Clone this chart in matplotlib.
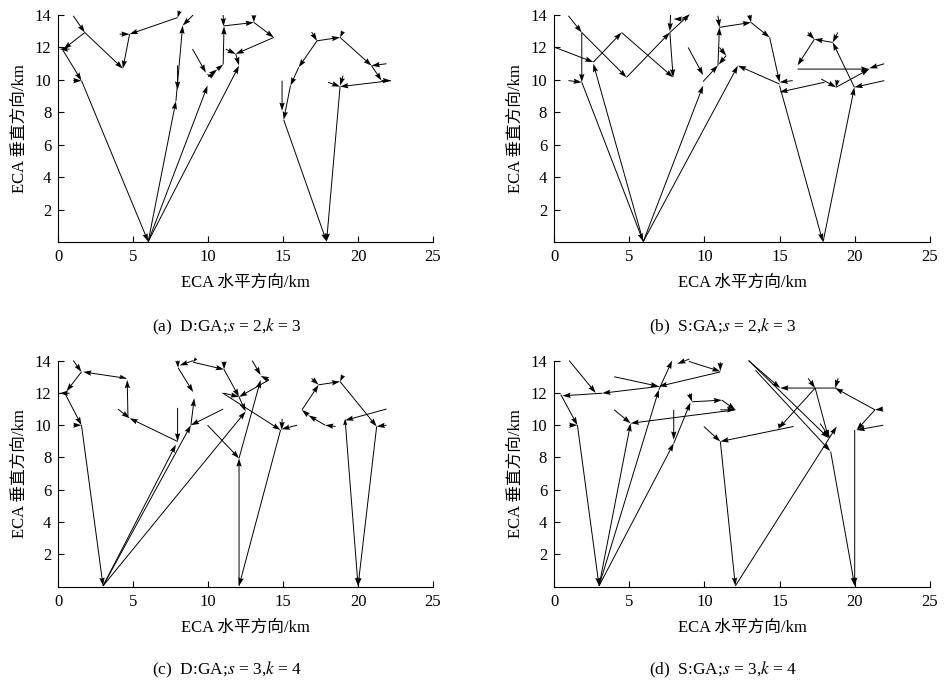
import matplotlib
matplotlib.use("Agg")
import matplotlib.pyplot as plt
import numpy as np

plt.rcParams["font.family"] = ["Liberation Serif", "Noto Sans CJK SC"]
plt.rcParams["mathtext.fontset"] = "stix"

# segments: (x_start, y_start, x_end, y_end) in km, arrow points to the end
seg_a = [
    (1.0, 13.95, 1.77, 12.92), (1.77, 12.92, 0.35, 11.9), (0.75, 11.9, 0.1, 11.9),
    (0.3, 11.85, 1.55, 9.96), (1.0, 9.96, 1.55, 9.96), (1.55, 9.96, 6.0, 0.05),
    (1.77, 12.92, 4.31, 10.7), (4.76, 12.82, 4.31, 10.7), (4.1, 12.82, 4.76, 12.82),
    (7.96, 13.84, 4.76, 12.82), (8.1, 14.25, 7.96, 13.84), (9.0, 14.0, 8.3, 13.35),
    (6.0, 0.05, 7.85, 8.7), (7.85, 8.7, 8.3, 13.35), (7.96, 10.9, 7.96, 9.4),
    (6.0, 0.05, 9.96, 9.65), (6.0, 0.05, 12.06, 10.88), (8.96, 11.9, 9.85, 10.45),
    (10.3, 10.2, 9.9, 10.35), (10.0, 10.2, 10.6, 10.65), (10.6, 10.65, 11.0, 10.95),
    (11.0, 10.95, 11.06, 13.3), (11.0, 14.0, 11.03, 13.3), (11.06, 13.33, 13.05, 13.54),
    (13.05, 14.0, 13.05, 13.54), (13.05, 13.54, 14.38, 12.62), (14.38, 12.62, 11.84, 11.6),
    (11.17, 11.9, 11.84, 11.6), (11.84, 11.6, 12.06, 10.9),
    (14.93, 9.96, 14.93, 8.1), (17.26, 12.41, 16.04, 10.78), (16.04, 10.78, 15.49, 9.65),
    (15.49, 9.65, 15.04, 7.55), (15.04, 7.55, 17.9, 0.05), (17.26, 12.41, 18.8, 12.62),
    (16.9, 12.95, 17.26, 12.41), (19.0, 13.0, 18.8, 12.62), (18.8, 12.62, 20.9, 10.88),
    (21.9, 11.0, 20.9, 10.88), (20.9, 10.88, 21.57, 9.96), (21.57, 9.96, 22.2, 9.96),
    (22.2, 9.96, 18.8, 9.59), (18.0, 9.86, 18.8, 9.59), (19.0, 10.27, 18.8, 9.65),
    (18.8, 9.59, 17.9, 0.05),
]

seg_b = [
    (0.95, 13.95, 1.84, 12.92), (1.84, 12.92, 1.84, 9.86), (0.95, 9.96, 1.84, 9.86),
    (1.84, 9.86, 5.93, 0.05), (1.84, 12.92, 4.82, 10.16), (0.07, 12.0, 2.61, 11.1),
    (2.61, 11.1, 4.49, 12.92), (4.49, 12.92, 7.92, 10.16), (4.82, 10.16, 7.7, 12.92),
    (7.7, 12.92, 7.92, 10.16), (7.7, 12.92, 9.03, 14.05), (7.75, 14.0, 7.7, 13.0),
    (8.9, 13.75, 7.95, 13.75), (5.93, 0.05, 2.61, 11.0), (5.93, 0.05, 9.91, 9.65),
    (5.93, 0.05, 12.23, 10.88), (8.92, 12.0, 9.91, 10.3), (9.91, 9.9, 10.9, 10.9),
    (11.0, 12.0, 11.45, 11.5), (11.45, 11.5, 10.95, 10.95), (10.9, 10.88, 11.0, 13.24),
    (10.9, 13.95, 11.0, 13.24), (11.0, 13.24, 13.1, 13.54), (13.0, 14.0, 13.1, 13.54),
    (13.1, 13.54, 14.34, 12.62), (14.34, 12.62, 15.0, 9.86), (15.0, 9.75, 12.23, 10.88),
    (15.88, 9.96, 15.0, 9.86), (15.0, 9.65, 17.88, 0.05), (17.99, 9.86, 15.0, 9.25),
    (17.77, 10.06, 18.76, 9.55), (18.85, 10.0, 18.76, 9.55), (18.76, 9.55, 20.97, 10.67),
    (16.2, 10.67, 20.97, 10.67), (21.97, 11.0, 20.97, 10.72), (16.88, 12.92, 17.32, 12.51),
    (17.32, 12.51, 16.2, 10.9), (18.87, 12.92, 18.54, 12.31), (18.54, 12.31, 17.32, 12.51),
    (19.98, 9.55, 18.54, 12.31), (17.9, 0.05, 19.98, 9.55), (21.97, 9.96, 19.98, 9.55),
]

seg_c = [
    (1.0, 14.0, 1.55, 13.3), (1.55, 13.3, 0.55, 12.1), (0.75, 11.98, 0.1, 11.98),
    (0.44, 11.98, 1.55, 10.0), (1.0, 10.0, 1.55, 10.0), (1.55, 10.0, 2.99, 0.05),
    (4.54, 12.9, 1.66, 13.3), (4.1, 13.0, 4.54, 12.9), (4.65, 10.53, 4.6, 12.8),
    (3.98, 11.0, 4.76, 10.43), (7.96, 8.99, 4.76, 10.43), (7.96, 11.07, 7.96, 8.99),
    (2.99, 0.05, 7.85, 8.8), (2.99, 0.05, 8.85, 10.0), (2.99, 0.05, 12.5, 10.85),
    (8.85, 10.0, 9.07, 11.67), (11.0, 11.0, 8.85, 10.0), (8.0, 13.55, 9.0, 12.05),
    (7.96, 14.0, 8.0, 13.55), (9.0, 14.0, 8.1, 13.7), (9.2, 14.15, 9.0, 13.9),
    (9.0, 13.9, 11.06, 13.45), (11.06, 13.95, 11.06, 13.45), (11.06, 13.45, 12.06, 11.75),
    (11.06, 11.98, 12.06, 11.75), (14.05, 12.8, 12.06, 11.75), (12.06, 11.75, 12.5, 10.85),
    (12.94, 14.0, 13.5, 13.1), (14.05, 12.8, 13.5, 13.05), (12.06, 0.05, 12.06, 7.95),
    (12.06, 7.95, 13.5, 12.8), (9.96, 10.0, 12.06, 7.95), (10.95, 12.0, 14.83, 9.7),
    (14.94, 10.4, 14.9, 9.7), (15.93, 10.0, 14.9, 9.75), (14.83, 9.7, 12.06, 0.05),
    (16.26, 10.95, 17.37, 12.5), (16.9, 12.9, 17.37, 12.5), (17.37, 12.5, 18.8, 12.7),
    (19.0, 13.1, 18.8, 12.7), (18.8, 12.7, 21.24, 9.92), (21.9, 10.0, 21.24, 9.92),
    (21.24, 9.92, 20.0, 0.05), (19.14, 10.3, 20.0, 0.05), (18.5, 9.92, 17.8, 10.0),
    (17.8, 10.0, 16.7, 10.6), (16.7, 10.6, 16.26, 10.95), (21.9, 11.0, 19.14, 10.3),
    (19.14, 10.0, 19.14, 10.4),
]

seg_d = [
    (1.0, 14.0, 2.77, 12.0), (6.97, 12.4, 3.2, 11.98), (3.2, 11.98, 0.55, 11.82),
    (11.06, 13.3, 6.97, 12.4), (4.0, 13.0, 6.97, 12.4), (0.44, 11.9, 1.55, 10.0),
    (1.0, 10.0, 1.55, 10.0), (1.55, 10.0, 2.99, 0.05), (2.99, 0.05, 6.97, 12.2),
    (6.97, 12.2, 7.85, 14.0), (9.0, 14.1, 8.2, 13.8), (8.96, 13.95, 11.06, 13.33),
    (11.06, 13.9, 11.06, 13.35), (2.99, 0.05, 5.09, 10.12), (4.0, 10.95, 5.09, 10.12),
    (12.06, 10.95, 5.09, 10.12), (11.06, 10.95, 12.06, 10.95), (2.99, 0.05, 7.96, 8.88),
    (7.96, 10.95, 7.96, 9.1), (7.96, 8.88, 9.07, 11.4), (9.0, 11.95, 9.18, 11.45),
    (9.18, 11.45, 11.17, 11.55), (11.17, 11.55, 12.06, 10.95), (9.96, 9.92, 11.06, 8.99),
    (11.06, 8.99, 12.06, 0.05), (15.93, 9.92, 11.06, 8.99), (12.06, 0.05, 18.8, 9.92),
    (15.0, 10.1, 14.95, 9.75), (12.94, 14.0, 15.04, 12.3), (18.8, 12.3, 15.04, 12.3),
    (13.4, 13.4, 18.37, 8.4), (12.94, 14.0, 18.26, 9.2), (17.37, 12.3, 14.94, 9.8),
    (17.37, 12.3, 18.26, 9.2), (16.9, 12.9, 17.37, 12.3), (18.9, 12.9, 18.7, 12.3),
    (21.35, 10.95, 18.7, 12.3), (21.9, 11.0, 21.35, 10.95), (21.35, 10.95, 20.13, 9.7),
    (21.9, 10.0, 20.13, 9.7), (20.0, 9.7, 20.0, 0.05), (17.7, 10.1, 18.37, 9.2),
    (18.4, 8.37, 20.0, 0.05),
]

captions = [
    "(a)  D:GA;$s$ = 2,$k$ = 3",
    "(b)  S:GA;$s$ = 2,$k$ = 3",
    "(c)  D:GA;$s$ = 3,$k$ = 4",
    "(d)  S:GA;$s$ = 3,$k$ = 4",
]
x_ticks = [0, 5, 10, 15, 20, 25]
y_ticks = [2, 4, 6, 8, 10, 12, 14]

fig = plt.figure(figsize=(9.44, 6.81), dpi=100)
boxes = [
    (0.0617, 0.644, 0.397, 0.334),
    (0.587, 0.644, 0.398, 0.334),
    (0.0617, 0.1385, 0.397, 0.332),
    (0.587, 0.1385, 0.398, 0.332),
]

for box, segs, cap in zip(boxes, [seg_a, seg_b, seg_c, seg_d], captions):
    ax = fig.add_axes(box)
    s = np.array(segs)
    ax.quiver(s[:, 0], s[:, 1], s[:, 2] - s[:, 0], s[:, 3] - s[:, 1],
              angles="xy", scale_units="xy", scale=1, color="k",
              width=0.0026, headwidth=5.5, headlength=8.5, headaxislength=7.5,
              clip_on=False)
    ax.set_xlim(0, 25)
    ax.set_ylim(0, 14)
    ax.set_xticks(x_ticks)
    ax.set_yticks(y_ticks)
    ax.tick_params(direction="in", length=4, width=0.8, labelsize=12, pad=5)
    for side in ["top", "right"]:
        ax.spines[side].set_visible(False)
    ax.set_xlabel("ECA 水平方向/km", fontsize=12, labelpad=7)
    ax.set_ylabel("ECA 垂直方向/km", fontsize=12, labelpad=5)
    ax.text(0.45, -0.37, cap, transform=ax.transAxes, ha="center",
            va="center", fontsize=12.5)

fig.savefig("out.png", dpi=100)
